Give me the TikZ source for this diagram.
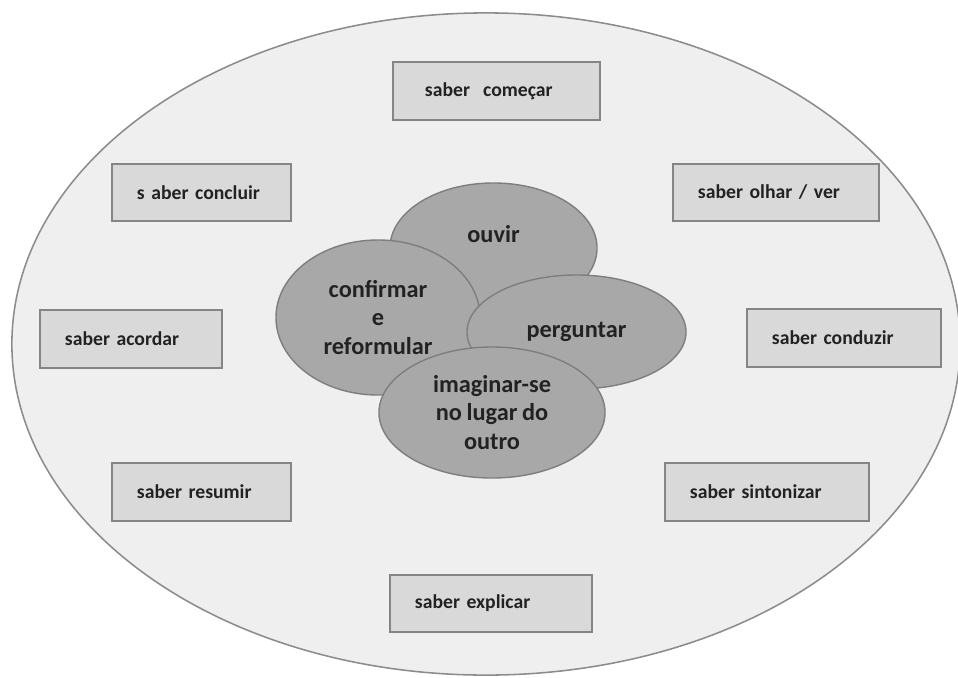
\documentclass[tikz,border=0pt]{standalone}
\usepackage{fontspec}
\setmainfont[WordSpace=0.85]{Carlito}
\usetikzlibrary{shapes.geometric}
\definecolor{canvasfill}{HTML}{EFEFEF}
\definecolor{canvasline}{HTML}{8C8C8C}
\definecolor{boxfill}{HTML}{D9D9D9}
\definecolor{boxline}{HTML}{858585}
\definecolor{blobfill}{HTML}{A8A8A8}
\definecolor{blobline}{HTML}{7E7E7E}
\definecolor{inkgray}{HTML}{222222}
\tikzset{
skill/.style={draw=boxline, fill=boxfill, line width=1.2pt, rectangle,
  minimum height=1.44cm, inner xsep=0.625cm, align=left, text=inkgray,
  font=\fontsize{14}{16}\selectfont\bfseries},
blob/.style={draw=blobline, fill=blobfill, line width=1pt, ellipse,
  inner sep=0pt, align=center, text=inkgray,
  font=\fontsize{17.3}{20}\selectfont\bfseries}
}

\begin{document}
\begin{tikzpicture}[x=0.025cm, y=-0.025cm]
\useasboundingbox (0,0) rectangle (958,677);
\draw[draw=canvasline, fill=canvasfill, line width=1.1pt] (486,344)
  ellipse [x radius=11.85cm, y radius=8.275cm];
% skills round the edge
\node[skill, inner xsep=0.8cm, text width=3.575cm] (comecar) at (496.5,91) {saber\ \ começar};
\node[skill, text width=3.225cm] (concluir) at (201.5,192.5) {s aber concluir};
\node[skill, text width=3.9cm] (olhar) at (776,192.5) {saber olhar / ver};
\node[skill, text width=3.3cm] (acordar) at (131,339) {saber acordar};
\node[skill, text width=3.6cm] (conduzir) at (844,338) {saber conduzir};
\node[skill, text width=3.225cm] (resumir) at (201.5,492) {saber resumir};
\node[skill, text width=3.85cm] (sintonizar) at (767,492) {saber sintonizar};
\node[skill, text width=3.8cm] (explicar) at (491,603.5) {saber explicar};
% centre
\node[blob, minimum width=5.175cm, minimum height=3.25cm,
  text height=0.4cm, text depth=0.7cm] (ouvir) at (493.5,248) {ouvir};
\node[blob, minimum width=5.1cm, minimum height=3.875cm] (confirmar)
  at (378,317.5) {confirmar\\e\\reformular};
\node[blob, minimum width=5.475cm, minimum height=2.85cm] (perguntar)
  at (576.5,332) {perguntar};
\node[blob, minimum width=5.65cm, minimum height=3.275cm] (imaginar)
  at (492,412.5) {imaginar-se\\no lugar do\\outro};
\end{tikzpicture}
\end{document}
